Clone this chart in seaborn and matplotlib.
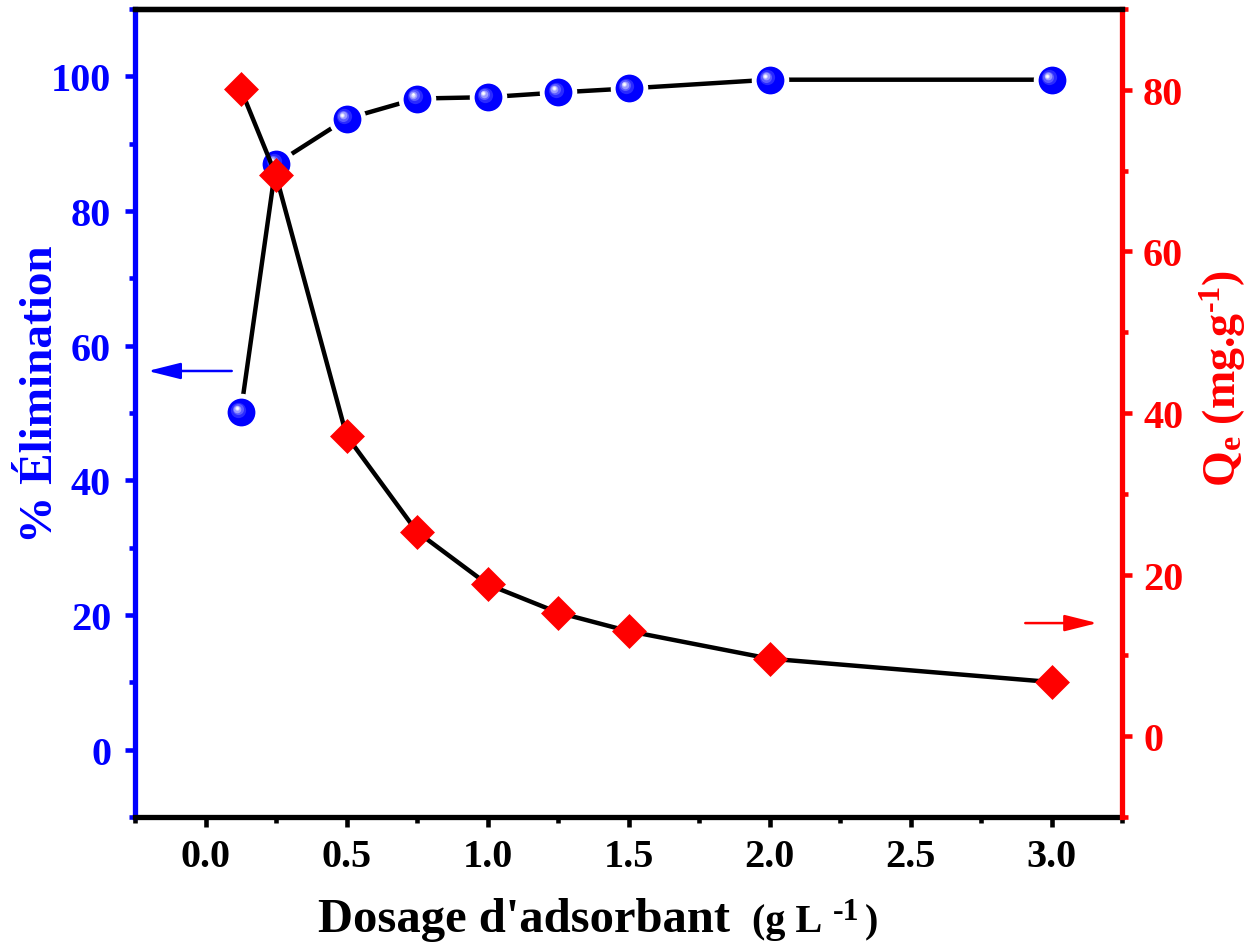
import matplotlib
matplotlib.use("Agg")
import matplotlib.pyplot as plt
from matplotlib.transforms import offset_copy
from matplotlib.ticker import MultipleLocator, FormatStrFormatter
import seaborn as sns
import pandas as pd

# Adsorbent dose (g/L) and the two responses
dosage = [0.125, 0.25, 0.5, 0.75, 1.0, 1.25, 1.5, 2.0, 3.0]
removal_pct = [50.1, 87.0, 93.7, 96.7, 96.9, 97.6, 98.2, 99.5, 99.5]
qe = [80.1, 69.4, 37.2, 25.3, 18.8, 15.3, 13.0, 9.6, 6.7]

x_ticks = [0.0, 0.5, 1.0, 1.5, 2.0, 2.5, 3.0]
left_ticks = [0, 20, 40, 60, 80, 100]
right_ticks = [0, 20, 40, 60, 80]

BLUE = "#0000ff"
RED = "#ff0000"

sns.set_theme(style="ticks")
plt.rcParams["font.family"] = ["Liberation Serif", "DejaVu Serif"]
plt.rcParams["font.weight"] = "bold"
plt.rcParams["mathtext.fontset"] = "custom"
plt.rcParams["mathtext.rm"] = "Liberation Serif:bold"
plt.rcParams["mathtext.it"] = "Liberation Serif:bold"
plt.rcParams["mathtext.bf"] = "Liberation Serif:bold"

df = pd.DataFrame({"dosage": dosage, "removal": removal_pct, "qe": qe})

W, H = 1259, 945
fig = plt.figure(figsize=(W / 100, H / 100), dpi=100)
fig.patch.set_facecolor("white")
ax = fig.add_axes([135 / W, 127 / H, 987 / W, 808 / H])
ax.set_facecolor("white")

# % removal: black connecting line, white gap ring, glossy blue spheres
sns.lineplot(data=df, x="dosage", y="removal", ax=ax, color="black", lw=3.2,
             zorder=2, sort=False)
sns.scatterplot(data=df, x="dosage", y="removal", ax=ax, s=27 ** 2,
                color="white", linewidth=0, zorder=3)
sns.scatterplot(data=df, x="dosage", y="removal", ax=ax, s=20 ** 2,
                color=BLUE, linewidth=0, zorder=4)
# specular highlight, built up from a few soft concentric layers
for size, col, off, z in [(11.0, "#2a2aff", 1.8, 5), (8.0, "#5c5cff", 2.2, 6),
                          (5.5, "#9a9aff", 2.6, 7), (3.2, "#d8d8ff", 2.9, 8),
                          (1.8, "#ffffff", 3.0, 9)]:
    ax.scatter(df["dosage"], df["removal"], s=size ** 2, color=col, lw=0, zorder=z,
               transform=offset_copy(ax.transData, fig=fig, x=-off, y=off, units="points"))

ax2 = ax.twinx()
sns.lineplot(data=df, x="dosage", y="qe", ax=ax2, color="black", lw=3.2,
             zorder=2, sort=False)
sns.scatterplot(data=df, x="dosage", y="qe", ax=ax2, marker="D", s=17.8 ** 2,
                color=RED, linewidth=0, zorder=4)

ax.set_xlim(-0.25, 3.25)
ax.set_ylim(-10, 110)
ax2.set_ylim(-10, 90)

ax.set_xticks(x_ticks)
ax.xaxis.set_minor_locator(MultipleLocator(0.25))
ax.xaxis.set_major_formatter(FormatStrFormatter("%.1f"))
ax.set_yticks(left_ticks)
ax.yaxis.set_minor_locator(MultipleLocator(10))
ax2.set_yticks(right_ticks)
ax2.yaxis.set_minor_locator(MultipleLocator(10))

ax.set_xlabel("")
ax.set_ylabel("")
ax2.set_ylabel("")
ax.grid(False)
ax2.grid(False)

SPW = 3.8
for a in (ax, ax2):
    for s in a.spines.values():
        s.set_linewidth(SPW)
        s.set_color("black")
ax.spines["left"].set_color(BLUE)
ax.spines["right"].set_visible(False)
ax2.spines["left"].set_visible(False)
ax2.spines["right"].set_color(RED)
ax2.spines["bottom"].set_visible(False)

tick_font = 29
ax.tick_params(axis="x", which="both", direction="out", colors="black",
               top=False, bottom=True, width=3.3, labelsize=tick_font, pad=8)
ax.tick_params(axis="x", which="major", length=7.2)
ax.tick_params(axis="x", which="minor", length=4.2)
ax.tick_params(axis="y", which="both", direction="out", colors=BLUE,
               left=True, right=False, width=3.3, labelsize=tick_font, pad=10)
ax.tick_params(axis="y", which="major", length=7.2)
ax.tick_params(axis="y", which="minor", length=4.2)
ax2.tick_params(axis="y", which="both", direction="out", colors=RED,
                right=True, left=False, width=3.3, labelsize=tick_font, pad=8)
ax2.tick_params(axis="y", which="major", length=7.2)
ax2.tick_params(axis="y", which="minor", length=4.2)
for lab in ax.get_xticklabels() + ax.get_yticklabels() + ax2.get_yticklabels():
    lab.set_fontweight("bold")

# Direction arrows pointing at each series' axis
arrow_style = "-|>,head_length=1.0,head_width=0.25"
ax.annotate("", xy=(0.013, 0.552), xytext=(0.098, 0.552), xycoords="axes fraction",
            arrowprops=dict(arrowstyle=arrow_style, color=BLUE, lw=1.8,
                            shrinkA=0, shrinkB=0, mutation_scale=20))
ax2.annotate("", xy=(0.975, 0.240), xytext=(0.902, 0.240), xycoords="axes fraction",
             arrowprops=dict(arrowstyle=arrow_style, color=RED, lw=1.8,
                             shrinkA=0, shrinkB=0, mutation_scale=20))

# Axis titles
fig.text(41 / W, 1 - 394 / H, "% Élimination", rotation=90, ha="center",
         va="center", color=BLUE, fontsize=34, fontweight="bold")
fig.text(1223 / W, 1 - 378 / H, r"Q$_{e}$ (mg.g$^{\text{-1}}$)", rotation=90,
         ha="center", va="center", color=RED, fontsize=33, fontweight="bold")
fig.text(318 / W, 1 - 932 / H, "Dosage d'adsorbant", ha="left", va="baseline",
         color="black", fontsize=35, fontweight="bold")
# unit part, set slightly smaller with a raised exponent
for txt, xpx, ypx, fs in [("(g L", 752, 932, 29), ("-1", 833, 920, 23),
                          (")", 865, 932, 29)]:
    fig.text(xpx / W, 1 - ypx / H, txt, ha="left", va="baseline",
             color="black", fontsize=fs, fontweight="bold")

fig.savefig("out.png", dpi=100)
